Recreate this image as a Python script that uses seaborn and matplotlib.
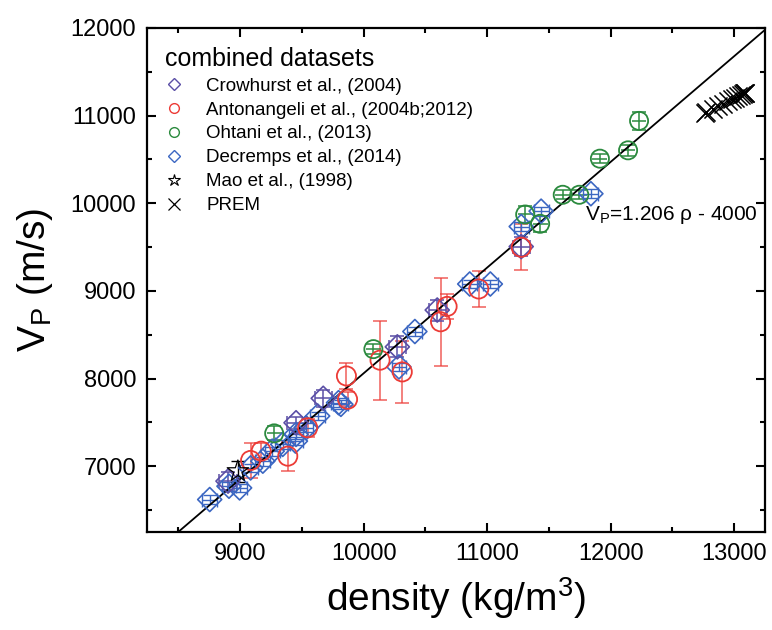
import matplotlib
matplotlib.use('Agg')
import matplotlib.pyplot as plt
from matplotlib.lines import Line2D
from matplotlib.ticker import MultipleLocator
import numpy as np
import seaborn as sns

# data (density kg/m3, Vp m/s)
crow_rho = [8902, 9453, 9673, 10273, 10596, 11276]
crow_vp = [6830, 7496, 7775, 8362, 8782, 9506]
crow_err = [100, 70, 100, 120, 120, 110]

anto_rho = [9085, 9171, 9386, 9547, 9861, 9870, 10133, 10313, 10623, 10676, 10932, 11276]
anto_vp = [7066, 7172, 7115, 7439, 8030, 7764, 8210, 8076, 8648, 8823, 9022, 9498]
anto_err = [200, 95, 165, 100, 150, 80, 450, 350, 500, 140, 200, 260]

ohta_rho = [9276, 10079, 11308, 11429, 11612, 11746, 11913, 12141, 12230]
ohta_vp = [7375, 8336, 9872, 9766, 10097, 10097, 10509, 10604, 10940]
ohta_err = [80, 60, 100, 90, 50, 50, 50, 60, 100]

decr_rho = [8754, 8910, 8996, 9085, 9184, 9260, 9345, 9448, 9453, 9534, 9628, 9797,
            9816, 10286, 10415, 10859, 11026, 11276, 11437, 11840]
decr_vp = [6620, 6772, 6753, 6981, 7058, 7172, 7249, 7287, 7363, 7439, 7573, 7725,
           7706, 8133, 8537, 9079, 9079, 9735, 9910, 10109]

mao_rho = [8982]
mao_vp = [6943]
mao_err = [120]

prem_rho = [12763.6, 12775.0, 12825.0, 12870.8, 12912.1, 12949.1, 12981.8,
            13010.1, 13034.1, 13053.7, 13068.9, 13079.8, 13086.3, 13088.5]
prem_vp = [11028.3, 11036.4, 11072.5, 11105.4, 11135.2, 11161.9, 11185.4,
           11205.8, 11223.0, 11237.1, 11248.1, 11255.9, 11260.6, 11262.2]

fit_slope = 1.206
fit_icpt = -4000

c_crow = '#5b4fa6'
c_anto = '#ec3b36'
c_ohta = '#2b8a3e'
c_decr = '#3c67c2'

sns.set_style('ticks')
plt.rcParams['font.family'] = ['Liberation Sans', 'DejaVu Sans']
plt.rcParams['mathtext.fontset'] = 'custom'
plt.rcParams['mathtext.rm'] = 'Liberation Sans'
plt.rcParams['mathtext.it'] = 'Liberation Sans:italic'
plt.rcParams['text.color'] = 'black'
plt.rcParams['axes.labelcolor'] = 'black'

fig = plt.figure(figsize=(7.72, 6.30), dpi=100)
ax = fig.add_axes([0.191, 0.1556, 0.800, 0.800])

# fit line
xl = np.array([8250, 13250])
sns.lineplot(x=xl, y=fit_slope * xl + fit_icpt, color='black', lw=1.3, ax=ax, zorder=3)

# error bars
ax.errorbar(anto_rho, anto_vp, yerr=anto_err, fmt='none', ecolor=c_anto, elinewidth=1.2,
            capsize=5, capthick=1.2, alpha=0.75, zorder=2)
ax.errorbar(ohta_rho, ohta_vp, yerr=ohta_err, fmt='none', ecolor=c_ohta, elinewidth=1.1,
            capsize=5, capthick=1.1, zorder=2)
ax.errorbar(ohta_rho, ohta_vp, xerr=60, fmt='none', ecolor=c_ohta, elinewidth=1.1, zorder=2)
ax.errorbar(crow_rho, crow_vp, yerr=crow_err, xerr=70, fmt='none', ecolor=c_crow,
            elinewidth=1.1, capsize=5, capthick=1.1, zorder=2)
ax.errorbar(decr_rho, decr_vp, yerr=50, xerr=60, fmt='none', ecolor=c_decr,
            elinewidth=1.0, capsize=5, capthick=1.0, zorder=2)
ax.errorbar(mao_rho, mao_vp, yerr=mao_err, fmt='none', ecolor='black',
            elinewidth=1.0, capsize=5, capthick=1.0, zorder=2)

# markers
sns.scatterplot(x=decr_rho, y=decr_vp, marker='D', s=150, facecolor='none',
                edgecolor=c_decr, linewidth=1.2, ax=ax, zorder=4)
sns.scatterplot(x=crow_rho, y=crow_vp, marker='D', s=150, facecolor='none',
                edgecolor=c_crow, linewidth=1.2, ax=ax, zorder=4)
sns.scatterplot(x=anto_rho, y=anto_vp, marker='o', s=190, facecolor='none',
                edgecolor=c_anto, linewidth=1.3, ax=ax, zorder=4)
sns.scatterplot(x=ohta_rho, y=ohta_vp, marker='o', s=170, facecolor='none',
                edgecolor=c_ohta, linewidth=1.3, ax=ax, zorder=4)
sns.scatterplot(x=mao_rho, y=mao_vp, marker='*', s=260, facecolor='none',
                edgecolor='black', linewidth=0.9, ax=ax, zorder=4)
sns.scatterplot(x=prem_rho, y=prem_vp, marker='x', s=170, color='black',
                linewidth=1.1, ax=ax, zorder=4)

ax.text(13190, 9870, 'V$_\\mathrm{P}$=1.206 ρ - 4000', fontsize=15, ha='right', va='center')

ax.set_xlim(8250, 13250)
ax.set_ylim(6250, 12000)
ax.xaxis.set_major_locator(MultipleLocator(1000))
ax.xaxis.set_minor_locator(MultipleLocator(500))
ax.yaxis.set_major_locator(MultipleLocator(1000))
ax.yaxis.set_minor_locator(MultipleLocator(500))
ax.tick_params(which='both', direction='in', top=True, right=True, width=1.5,
               labelsize=17, pad=8, colors='black')
ax.tick_params(which='major', length=6.5)
ax.tick_params(which='minor', length=3.6)
for sp in ax.spines.values():
    sp.set_linewidth(1.6)
    sp.set_color('black')

ax.set_xlabel('density (kg/m$^\\mathrm{3}$)', fontsize=28, labelpad=7)
ax.set_ylabel('V$_\\mathrm{P}$ (m/s)', fontsize=28, labelpad=11)

handles = [
    Line2D([], [], ls='none', marker='D', ms=6, mfc='none', mec=c_crow, mew=1.0),
    Line2D([], [], ls='none', marker='o', ms=7, mfc='none', mec=c_anto, mew=1.0),
    Line2D([], [], ls='none', marker='o', ms=7, mfc='none', mec=c_ohta, mew=1.0),
    Line2D([], [], ls='none', marker='D', ms=6, mfc='none', mec=c_decr, mew=1.0),
    Line2D([], [], ls='none', marker='*', ms=9, mfc='none', mec='black', mew=0.8),
    Line2D([], [], ls='none', marker='x', ms=8, color='black', mew=0.9),
]
labels = ['Crowhurst et al., (2004)', 'Antonangeli et al., (2004b;2012)', 'Ohtani et al., (2013)',
          'Decremps et al., (2014)', 'Mao et al., (1998)', 'PREM']
leg = ax.legend(handles, labels, title='combined datasets', loc='upper left',
                bbox_to_anchor=(0.022, 0.97), frameon=False, fontsize=13.5,
                title_fontsize=18, alignment='left', handlelength=1.0,
                handletextpad=1.2, labelspacing=0.36, borderaxespad=0, borderpad=0.2)

fig.savefig('out.png', dpi=100)
